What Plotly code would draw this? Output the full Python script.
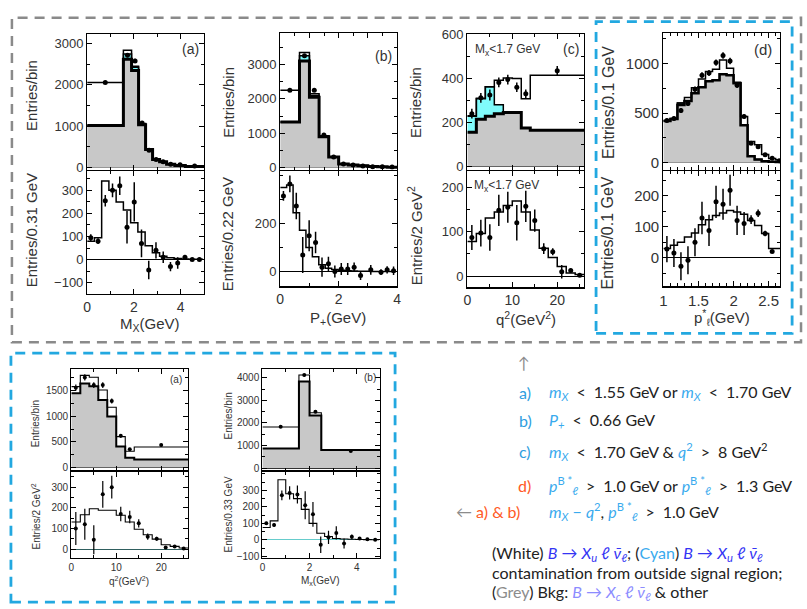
import plotly.graph_objects as go

# ---------------- data ----------------
# (a) top: M_X distribution, variable bins
A_edges = [0, 1.55, 1.9, 2.2, 2.5, 2.8, 3.1, 3.4, 3.75, 4.2, 5.0]
A_bkg = [1020, 2620, 2350, 1040, 440, 200, 140, 80, 55, 30]
A_cyan = [0, 130, 80, 10, 5, 0, 0, 0, 0, 0]
A_sig = [1040, 90, 20, 20, 10, 10, 5, 5, 5, 5]
A_data = [2060, 2720, 2580, 1080, 420, 200, 140, 80, 70, 40]
A_err = [30, 50, 50, 35, 20, 15, 12, 10, 10, 8]
# (a) bottom: bkg-subtracted, 0.31 GeV bins
AL_edges = [0, 0.31, 0.62, 0.93, 1.24, 1.55, 1.86, 2.17, 2.48, 2.79, 3.10, 3.41, 3.72, 4.03, 4.34, 4.65, 4.96]
AL_hist = [80, 95, 340, 300, 250, 215, 160, 120, 60, 30, 15, 8, 5, 3, 2, 1]
AL_data = [95, 80, 255, 300, 320, 140, 250, 70, -45, 40, 10, -30, -15, 10, 0, 0]
AL_err = [15, 12, 25, 30, 40, 70, 85, 60, 40, 35, 25, 20, 25, 10, 5, 5]

# (b) top: P+ distribution
B_edges = [0, 0.66, 1.0, 1.33, 1.66, 2.0, 2.33, 2.66, 3.0, 3.33, 3.66, 4.0]
B_bkg = [1330, 3100, 2050, 900, 310, 110, 80, 55, 35, 25, 15]
B_cyan = [0, 150, 50, 10, 0, 0, 0, 0, 0, 0, 0]
B_sig = [920, 100, 50, 20, 10, 5, 5, 5, 5, 3, 3]
B_data = [2250, 3250, 2250, 950, 310, 110, 80, 50, 30, 25, 20]
B_err = [30, 50, 40, 25, 15, 10, 8, 7, 6, 5, 5]
# (b) bottom: 0.22 GeV bins
BL_edges = [0, 0.22, 0.44, 0.66, 0.88, 1.10, 1.32, 1.54, 1.76, 1.98, 2.20, 2.42, 2.64, 2.86, 3.08, 3.30, 3.52, 3.74, 3.96]
BL_hist = [350, 360, 245, 172, 100, 62, 28, 14, 8, 5, 3, 2, 1, 1, 0, 0, 0, 0]
BL_x = [0.11, 0.33, 0.55, 0.77, 0.99, 1.21, 1.43, 1.65, 1.87, 2.09, 2.31, 2.53, 2.75, 3.1, 3.45, 3.66, 3.88]
BL_data = [315, 365, 273, 69, 149, 121, 18, 32, 0, 10, 10, 18, -17, 7, -3, 7, 3]
BL_err = [20, 35, 55, 75, 65, 45, 40, 30, 25, 25, 25, 20, 18, 20, 12, 15, 18]

# (c) top: q^2 for M_X<1.7 GeV
C_edges = [0, 2, 4, 6, 8, 10, 12, 14, 26]
C_bkg = [155, 215, 228, 240, 245, 245, 175, 165]
C_cyan = [73, 93, 134, 40, 0, 0, 0, 0]
C_sig = [2, 2, 0, 112, 157, 155, 133, 250]
C_x = [1, 3, 5, 7, 9, 11, 13, 20]
C_data = [240, 312, 325, 382, 395, 360, 330, 435]
C_err = [22, 22, 25, 22, 22, 22, 20, 22]
# (c) bottom: 2 GeV^2 bins
CL_edges = [0, 2, 4, 6, 8, 10, 12, 14, 16, 18, 20, 22, 24, 26]
CL_hist = [78, 96, 131, 144, 159, 169, 144, 104, 63, 42, 22, 7, 4]
CL_data = [87, 97, 87, 148, 155, 120, 157, 125, 62, 55, 10, 13, 2]
CL_err = [28, 30, 30, 35, 35, 40, 35, 25, 12, 8, 15, 4, 3]

# (d) top: lepton momentum, 0.1 GeV bins
D_edges = [1.0, 1.1, 1.2, 1.3, 1.4, 1.5, 1.6, 1.7, 1.8, 1.9, 2.0, 2.1, 2.2, 2.3, 2.4, 2.5, 2.6, 2.7]
D_bkg = [420, 440, 580, 620, 700, 760, 820, 830, 890, 880, 800, 377, 65, 33, 16, 10, 7]
D_cyan = [0, 0, 20, 0, 0, 0, 0, 0, 0, 0, 0, 0, 0, 0, 0, 0, 0]
D_sig = [5, 5, 0, 35, 54, 83, 98, 110, 143, 70, 10, 88, 148, 147, 66, 33, 23]
D_data = [425, 445, 525, 597, 738, 879, 902, 1007, 1079, 1023, 780, 465, 197, 160, 80, 45, 20]
D_err = [20, 20, 25, 25, 28, 30, 30, 32, 33, 32, 28, 22, 15, 12, 10, 8, 6]
# (d) bottom
DL_edges = D_edges
DL_hist = [30, 40, 50, 67, 80, 106, 122, 136, 144, 152, 147, 140, 120, 104, 78, 30, 30]
DL_x = [1.05, 1.15, 1.25, 1.35, 1.45, 1.55, 1.65, 1.75, 1.85, 1.95, 2.05, 2.15, 2.25, 2.35, 2.45, 2.55]
DL_data = [28, 15, -27, -8, 50, 128, 88, 180, 172, 217, 120, 110, 123, 143, 78, 20]
DL_err = [42, 45, 45, 45, 45, 52, 50, 52, 50, 50, 47, 37, 14, 12, 9, 5]

# lower-left box (a): q^2
E_edges = [0, 2, 4, 6, 8, 10, 12, 14, 26]
E_bkg = [1450, 1640, 1590, 1320, 1000, 414, 191, 159]
E_sig = [130, 160, 175, 195, 178, 191, 127, 242]
E_x = [1, 3, 5, 7, 9, 11, 13, 20]
E_data = [1560, 1760, 1610, 1610, 1300, 620, 360, 440]
E_err = [60, 60, 55, 55, 50, 35, 25, 25]
EL_edges = [0, 2, 4, 6, 8, 10, 12, 14, 16, 18, 20, 22, 24, 26]
EL_hist = [131, 166, 195, 188, 188, 164, 131, 96, 69, 48, 21, 13, 5]
EL_data = [100, 120, 45, 265, 300, 170, 155, 125, 60, 50, 8, 12, 3]
EL_err = [80, 75, 70, 65, 55, 35, 30, 20, 15, 10, 5, 5, 3]

# lower-left box (b): M_X
F_edges = [0, 1.55, 2.0, 2.5, 5.0]
F_bkg = [870, 3830, 2330, 800]
F_sig = [950, 290, 120, 0]
F_x = [0.775, 1.775, 2.25, 3.75]
F_data = [1830, 4120, 2500, 760]
F_err = [40, 60, 50, 30]
FL_edges = [0, 0.33, 0.66, 0.99, 1.32, 1.65, 1.98, 2.31, 2.64, 2.97, 3.30, 3.63, 3.96, 4.29, 4.62, 4.95]
FL_hist = [75, 115, 365, 280, 250, 185, 100, 40, 20, 8, 5, 3, 2, 1, 0]
FL_data = [100, 90, 270, 285, 275, 210, 155, -30, 15, 42, -22, 18, 8, 3, 0]
FL_err = [10, 10, 30, 40, 55, 85, 75, 50, 40, 40, 30, 15, 8, 5, 5]

# ---------------- helpers ----------------
W, H = 807, 609
GREY = '#c8c8c8'
CYAN = '#80fbfb'
TXT = '#333333'
FONT = 'Liberation Sans, Arial, sans-serif'


def fx(x):
    return x / W


def fy(y):
    return 1 - y / H


fig = go.Figure()
layout_axes = {}
n_axes = [0]


def new_axes(xpx, ypx, xr, yr, xdt, xmin, ydt, ymin, xlabels, tfs_x, tfs_y,
             zcolor='black', ytickvals=None):
    n_axes[0] += 1
    i = n_axes[0]
    sx = '' if i == 1 else str(i)
    common = dict(showline=True, linecolor='black', linewidth=1.2, mirror='ticks',
                  ticks='inside', ticklen=5, tickcolor='black', tickwidth=1,
                  showgrid=False)
    layout_axes['xaxis' + sx] = dict(
        common, domain=[fx(xpx[0]), fx(xpx[1])], range=xr, anchor='y' + sx,
        dtick=xdt, tick0=xr[0] if xr[0] > 0 else 0, zeroline=False,
        showticklabels=xlabels, tickfont=dict(size=tfs_x, color=TXT, family=FONT),
        minor=dict(ticks='inside', ticklen=3, dtick=xmin, tickcolor='black'))
    ya = dict(
        common, domain=[fy(ypx[1]), fy(ypx[0])], range=yr, anchor='x' + sx,
        dtick=ydt, tick0=0, zeroline=True, zerolinecolor=zcolor, zerolinewidth=1.1,
        tickfont=dict(size=tfs_y, color=TXT, family=FONT),
        minor=dict(ticks='inside', ticklen=3, dtick=ymin, tick0=0, tickcolor='black'))
    if ytickvals is not None:
        ya['tickmode'] = 'array'
        ya['tickvals'] = ytickvals
        ya.pop('dtick')
    layout_axes['yaxis' + sx] = ya
    return 'x' + sx, 'y' + sx


def step(edges, vals):
    return list(edges), list(vals) + [vals[-1]]


def centers(edges):
    return [(edges[k] + edges[k + 1]) / 2 for k in range(len(edges) - 1)]


def stack_panel(ax, edges, bkg, cyan, sig, thick, thin):
    xa, ya = ax
    x, yb = step(edges, bkg)
    fig.add_trace(go.Scatter(x=x, y=yb, mode='lines', fill='tozeroy', fillcolor=GREY,
                             line=dict(width=0, shape='hv', color=GREY),
                             xaxis=xa, yaxis=ya, hoverinfo='skip'))
    bc = [b + c for b, c in zip(bkg, cyan)]
    _, ybc = step(edges, bc)
    fig.add_trace(go.Scatter(x=x, y=ybc, mode='lines', fill='tonexty', fillcolor=CYAN,
                             line=dict(width=0, shape='hv', color=CYAN),
                             xaxis=xa, yaxis=ya, hoverinfo='skip'))
    tot = [v + s for v, s in zip(bc, sig)]
    _, yt = step(edges, tot)
    fig.add_trace(go.Scatter(x=x, y=yt, mode='lines',
                             line=dict(width=thin, shape='hv', color='black'),
                             xaxis=xa, yaxis=ya, hoverinfo='skip'))
    if any(c > 0 for c in cyan):
        fig.add_trace(go.Scatter(x=x, y=ybc, mode='lines',
                                 line=dict(width=thin, shape='hv', color='black'),
                                 xaxis=xa, yaxis=ya, hoverinfo='skip'))
    fig.add_trace(go.Scatter(x=x, y=yb, mode='lines',
                             line=dict(width=thick, shape='hv', color='black'),
                             xaxis=xa, yaxis=ya, hoverinfo='skip'))


def line_panel(ax, edges, vals, thin):
    x, y = step(edges, vals)
    fig.add_trace(go.Scatter(x=x, y=y, mode='lines',
                             line=dict(width=thin, shape='hv', color='black'),
                             xaxis=ax[0], yaxis=ax[1], hoverinfo='skip'))


def points(ax, x, y, err, size=5, th=1.5):
    fig.add_trace(go.Scatter(x=x, y=y, mode='markers',
                             marker=dict(size=size, color='black'),
                             error_y=dict(type='data', array=err, color='black',
                                          thickness=th, width=0),
                             xaxis=ax[0], yaxis=ax[1], hoverinfo='skip'))


annots = []


def ann(text, x, y, size, angle=0, xanchor='center', color=TXT, family=FONT):
    annots.append(dict(text=text, x=fx(x), y=fy(y), xref='paper', yref='paper',
                       showarrow=False, textangle=angle, xanchor=xanchor,
                       yanchor='middle', borderpad=0,
                       font=dict(size=size, color=color, family=family)))


# ---------------- top row ----------------
TH, TN = 3, 1.5
TT = 15  # axis title size
# (a)
ax = new_axes((84, 202), (28, 166), [0, 5], [-50, 3220], 2, 1, 1000, 500, False, 13, 13)
stack_panel(ax, A_edges, A_bkg, A_cyan, A_sig, TH, TN)
points(ax, centers(A_edges), A_data, A_err)
ax = new_axes((84, 202), (167, 293), [0, 5], [-150, 385], 2, 1, 100, 50, True, 14, 13)
line_panel(ax, AL_edges, AL_hist, TN)
points(ax, centers(AL_edges), AL_data, AL_err)
ann('Entries/bin', 28, 90, TT, -90)
ann('Entries/0.31 GeV', 28, 228, TT, -90)
ann('M<sub>X</sub>(GeV)', 147, 324, 15)
ann('(a)', 188, 43, 14)

# (b)
ax = new_axes((279, 397), (27, 166), [0, 4], [-60, 3900], 1, 0.5, 1000, 500, False, 13, 13)
stack_panel(ax, B_edges, B_bkg, B_cyan, B_sig, TH, TN)
points(ax, centers(B_edges), B_data, B_err)
ax = new_axes((279, 397), (167, 285), [0, 4], [-62, 420], 2, 1, 200, 100, True, 14, 13,
              ytickvals=[0, 200])
line_panel(ax, BL_edges, BL_hist, TN)
points(ax, BL_x, BL_data, BL_err)
ann('Entries/bin', 226, 97, TT, -90)
ann('Entries/0.22 GeV', 226, 232, TT, -90)
ann('P<sub>+</sub>(GeV)', 337, 318, 15)
ann('(b)', 383, 50, 14)

# (c)
ax = new_axes((468, 586), (28, 166), [0, 26], [-15, 600], 10, 5, 200, 100, False, 13, 13)
stack_panel(ax, C_edges, C_bkg, C_cyan, C_sig, TH, TN)
points(ax, C_x, C_data, C_err)
ax = new_axes((468, 586), (167, 286), [0, 26], [-25, 237], 10, 5, 100, 50, True, 14, 13)
line_panel(ax, CL_edges, CL_hist, TN)
points(ax, centers(CL_edges), CL_data, CL_err)
ann('Entries/bin', 415, 97, TT, -90)
ann('Entries/2 GeV<sup>2</sup>', 415, 233, TT, -90)
ann('q<sup>2</sup>(GeV<sup>2</sup>)', 527, 318, 15)
ann('(c)', 573, 43, 14)
ann('M<sub>x</sub>&lt;1.7 GeV', 509, 44, 12)
ann('M<sub>x</sub>&lt;1.7 GeV', 508, 183, 12)

# (d)
ax = new_axes((666, 784), (27, 166), [1, 2.665], [-70, 1300], 0.5, 0.1, 500, 250, False, 15, 15)
stack_panel(ax, D_edges, D_bkg, D_cyan, D_sig, TH - 0.5, TN)
points(ax, centers(D_edges), D_data, D_err)
ax = new_axes((666, 784), (167, 285), [1, 2.665], [-92, 280], 0.5, 0.1, 100, 50, True, 15, 15)
line_panel(ax, DL_edges, DL_hist, TN)
points(ax, DL_x, DL_data, DL_err)
ann('Entries/0.1 GeV', 610, 97, 16, -90)
ann('Entries/0.1 GeV', 610, 230, 16, -90)
ann('p<sup>*</sup><sub>ℓ</sub>(GeV)', 725, 317, 15)
ann('(d)', 767, 43, 15)

# ---------------- bottom-left box ----------------
BT, BN = 2, 1.1
ax = new_axes((68, 186), (369, 473), [0, 26], [-60, 1930], 10, 5, 500, 250, False, 10, 10)
stack_panel(ax, E_edges, E_bkg, [0] * len(E_bkg), E_sig, BT, BN)
points(ax, E_x, E_data, E_err, 4, 1.2)
ax = new_axes((68, 186), (474, 562), [0, 26], [-43, 375], 10, 5, 100, 50, True, 10, 10,
              zcolor='#2f5f5f', ytickvals=[0, 100, 200, 300])
line_panel(ax, EL_edges, EL_hist, BN)
points(ax, centers(EL_edges), EL_data, EL_err, 4, 1.2)
ann('Entries/bin', 32, 425, 10, -90)
ann('Entries/2 GeV<sup>2</sup>', 32, 520, 10, -90)
ann('q<sup>2</sup>(GeV<sup>2</sup>)', 126, 586, 10)
ann('(a)', 174, 380, 10)

ax = new_axes((261, 380), (369, 473), [0, 5], [-110, 4400], 2, 1, 1000, 500, False, 10, 10)
stack_panel(ax, F_edges, F_bkg, [0] * len(F_bkg), F_sig, BT, BN)
points(ax, F_x, F_data, F_err, 4, 1.2)
ax = new_axes((261, 380), (474, 562), [0, 5], [-110, 414], 2, 1, 100, 50, True, 10, 10,
              zcolor='#66cccc', ytickvals=[-100, 0, 100, 200, 300])
line_panel(ax, FL_edges, FL_hist, BN)
points(ax, centers(FL_edges), FL_data, FL_err, 4, 1.2)
ann('Entries/bin', 227, 417, 10, -90)
ann('Entries/0.33 GeV', 227, 518, 10, -90)
ann('M<sub>x</sub>(GeV)', 320, 586, 10)
ann('(b)', 370, 378, 10)

# ---------------- right-hand text ----------------
TF = 'Lato, Open Sans, sans-serif'
RS = 16
LB = '#2e9ee0'
MV = '#39aaee'
OR = '#ff5a26'
BLUE = '#3434f4'
LAV = '#8c8cff'
GR = '#8c8c8c'
K = '#222222'


def c(t, col):
    return f"<span style='color:{col}'>{t}</span>"


mX = c('<i>m<sub>X</sub></i>', MV)
pB = c('<i>p</i><sup>B *</sup><sub><i>ℓ</i></sub>', MV)
Xu = '<i>B</i> → <i>X<sub>u</sub></i> <i>ℓ</i> <i>ν̄<sub>ℓ</sub></i>'
Xc = '<i>B</i> → <i>X<sub>c</sub></i> <i>ℓ</i> <i>ν̄<sub>ℓ</sub></i>'
LT = '\u2002&lt;\u2002'
GT = '\u2002&gt;\u2002'

ann('↑', 518, 363, RS, xanchor='left', color=GR, family=TF)
ann('a)', 519, 393, RS, xanchor='left', color=LB, family=TF)
ann(f'{mX}{LT}1.55 GeV or {mX}{LT}1.70 GeV', 549, 393, RS, xanchor='left', color=K, family=TF)
ann('b)', 519, 422, RS, xanchor='left', color=LB, family=TF)
ann(c('<i>P<sub>+</sub></i>', MV) + f'{LT}0.66 GeV', 549, 422, RS, xanchor='left', color=K, family=TF)
ann('c)', 519, 453, RS, xanchor='left', color=LB, family=TF)
ann(f'{mX}{LT}1.70 GeV &amp; ' + c('<i>q</i><sup>2</sup>', MV) + f'{GT}8 GeV<sup>2</sup>',
    549, 453, RS, xanchor='left', color=K, family=TF)
ann('d)', 518, 488, RS, xanchor='left', color=OR, family=TF)
ann(f'{pB}{GT}1.0 GeV or {pB}{GT}1.3 GeV', 549, 488, RS, xanchor='left', color=K, family=TF)
ann(c('←', GR) + ' a) &amp; b)', 456, 515, RS, xanchor='left', color=OR, family=TF)
ann(c('<i>m<sub>X</sub></i> − <i>q</i><sup>2</sup>', MV) + f', {pB}{GT}1.0 GeV',
    549, 515, RS, xanchor='left', color=K, family=TF)
ann('(White) ' + c(Xu, BLUE) + '; (' + c('Cyan', MV) + ') ' + c(Xu, BLUE),
    492, 557, RS, xanchor='left', color=K, family=TF)
ann('contamination from outside signal region;', 492, 577, RS, xanchor='left', color=K, family=TF)
ann('(' + c('Grey', GR) + ') Bkg: ' + c(Xc, LAV) + ' &amp; other',
    492, 597, RS, xanchor='left', color=K, family=TF)

# ---------------- dashed boxes ----------------
shapes = [
    dict(type='rect', xref='paper', yref='paper', x0=fx(8), x1=fx(805), y0=fy(342), y1=fy(11),
         line=dict(color='#8a8a8a', width=2.5, dash='10px,7px')),
    dict(type='rect', xref='paper', yref='paper', x0=fx(598), x1=fx(796), y0=fy(333), y1=fy(15),
         line=dict(color='#22a8e0', width=2.8, dash='10px,7px')),
    dict(type='rect', xref='paper', yref='paper', x0=fx(7), x1=fx(395), y0=fy(607), y1=fy(353),
         line=dict(color='#22a8e0', width=2.8, dash='10px,7px')),
]

fig.update_layout(width=W, height=H, margin=dict(l=0, r=0, t=0, b=0),
                  paper_bgcolor='white', plot_bgcolor='white', showlegend=False,
                  annotations=annots, shapes=shapes, **layout_axes)
fig.write_html('out.html', config={'displayModeBar': False, 'staticPlot': True},
               post_script="document.body.style.margin='0px';"
                           "document.body.style.overflow='hidden';")
